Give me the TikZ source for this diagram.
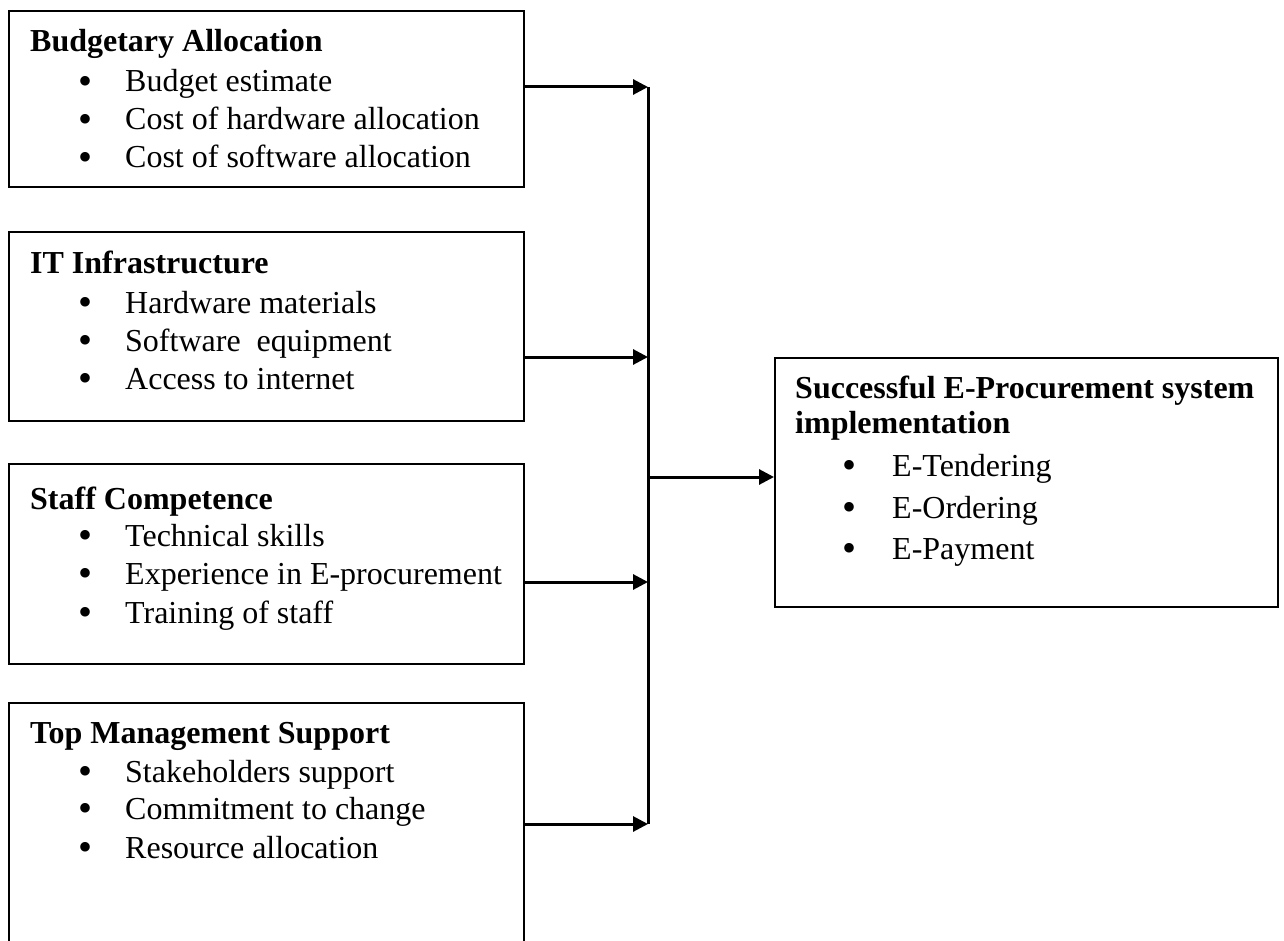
\documentclass[tikz,border=0pt]{standalone}
\usepackage{fontspec}
\setmainfont{Liberation Serif}
\usetikzlibrary{arrows.meta}
\begin{document}
\begin{tikzpicture}[x=1pt,y=-1pt,
  box/.style={draw=black, line width=2.4pt, inner sep=0pt, anchor=north west},
  ttl/.style={anchor=base west, inner sep=0pt, font=\fontsize{32}{38}\selectfont\bfseries},
  itm/.style={anchor=base west, inner sep=0pt, font=\fontsize{32}{38}\selectfont},
  bul/.style={anchor=base, inner sep=0pt, yshift=-2.6pt, font=\fontsize{40}{40}\selectfont},
  conn/.style={line width=3pt},
  arr/.style={conn, -{Triangle[length=15pt,width=15pt]}}]
\useasboundingbox (0,0) rectangle (1284,941);
\clip (0,0) rectangle (1284,941);
% boxes
\node[box, minimum width=515pt, minimum height=176pt] (b1) at (8,10) {};
\node[box, minimum width=515pt, minimum height=189pt] (b2) at (8,231) {};
\node[box, minimum width=515pt, minimum height=200pt] (b3) at (8,463) {};
\node[box, minimum width=515pt, minimum height=280pt] (b4) at (8,702) {};
\node[box, minimum width=503pt, minimum height=249pt] (out) at (774,357) {};
% box 1
\node[ttl] (t1) at (30,52) {Budgetary Allocation};
\node[bul] (t1b1) at (86,92) {•};   \node[itm] (t1i1) at (125,92) {Budget estimate};
\node[bul] (t1b2) at (86,130) {•};  \node[itm] (t1i2) at (125,130) {Cost of hardware allocation};
\node[bul] (t1b3) at (86,168) {•};  \node[itm] (t1i3) at (125,168) {Cost of software allocation};
% box 2
\node[ttl] (t2) at (30,273) {IT Infrastructure};
\node[bul] (t2b1) at (86,313) {•};  \node[itm] (t2i1) at (125,313) {Hardware materials};
\node[bul] (t2b2) at (86,351) {•};  \node[itm] (t2i2) at (125,351) {Software\ \ equipment};
\node[bul] (t2b3) at (86,389) {•};  \node[itm] (t2i3) at (125,389) {Access to internet};
% box 3
\node[ttl] (t3) at (30,509) {Staff Competence};
\node[bul] (t3b1) at (86,546) {•};  \node[itm] (t3i1) at (125,546) {Technical skills};
\node[bul] (t3b2) at (86,584) {•};  \node[itm] (t3i2) at (125,584) {Experience in E-procurement};
\node[bul] (t3b3) at (86,623) {•};  \node[itm] (t3i3) at (125,623) {Training of staff};
% box 4
\node[ttl] (t4) at (30,743) {Top Management Support};
\node[bul] (t4b1) at (86,782) {•};  \node[itm] (t4i1) at (125,782) {Stakeholders support};
\node[bul] (t4b2) at (86,819) {•};  \node[itm] (t4i2) at (125,819) {Commitment to change};
\node[bul] (t4b3) at (86,858) {•};  \node[itm] (t4i3) at (125,858) {Resource allocation};
% output box
\node[ttl] (t5a) at (795,398) {Successful E-Procurement system};
\node[ttl] (t5b) at (795,433) {implementation};
\node[bul] (t5b1) at (849,476) {•};  \node[itm] (t5i1) at (892,476) {E-Tendering};
\node[bul] (t5b2) at (849,518) {•};  \node[itm] (t5i2) at (892,518) {E-Ordering};
\node[bul] (t5b3) at (849,559) {•};  \node[itm] (t5i3) at (892,559) {E-Payment};
% connectors
\coordinate (j1) at (648,87);
\coordinate (j2) at (648,357);
\coordinate (j3) at (648,582);
\coordinate (j4) at (648,824);
\coordinate (jm) at (648,477);
\draw[arr] (b1.east |- j1) -- (j1);
\draw[arr] (b2.east |- j2) -- (j2);
\draw[arr] (b3.east |- j3) -- (j3);
\draw[arr] (b4.east |- j4) -- (j4);
\draw[conn] (j1) -- (j4);
\draw[arr] (jm) -- (out.west |- jm);
\end{tikzpicture}
\end{document}
